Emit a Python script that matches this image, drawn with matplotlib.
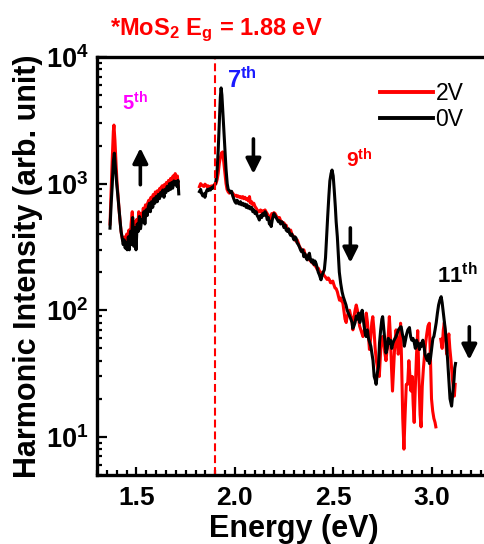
import numpy as np
import matplotlib
matplotlib.use('Agg')
import matplotlib.pyplot as plt
from matplotlib.ticker import FuncFormatter, MultipleLocator, LogLocator, NullFormatter

plt.rcParams['font.family'] = ['Liberation Sans', 'DejaVu Sans']
plt.rcParams['mathtext.fontset'] = 'custom'
plt.rcParams['mathtext.rm'] = 'Liberation Sans'
plt.rcParams['mathtext.bf'] = 'Liberation Sans:bold'
plt.rcParams['mathtext.it'] = 'Liberation Sans:italic'

# ---------------- data ----------------
# 0V, 5th-harmonic segment
e_0v_a = [1.366, 1.372, 1.377, 1.383, 1.388, 1.394, 1.400, 1.405, 1.411, 1.417,
          1.422, 1.427, 1.433, 1.438, 1.443, 1.448, 1.453, 1.459, 1.464, 1.470,
          1.475, 1.481, 1.487, 1.492, 1.498, 1.504, 1.510, 1.515, 1.521, 1.527,
          1.532, 1.538, 1.543, 1.549, 1.555, 1.560, 1.566, 1.571, 1.577, 1.583,
          1.588, 1.594, 1.600, 1.606, 1.611, 1.617, 1.623, 1.628, 1.634, 1.640,
          1.645, 1.650, 1.656, 1.662, 1.668, 1.673, 1.679, 1.684, 1.690, 1.695,
          1.700, 1.706, 1.711, 1.715]
i_0v_a = [445, 700, 950, 1500, 1740, 1300, 1000, 830, 650, 510,
          420, 380, 330, 360, 310, 340, 300, 380, 300, 420,
          330, 540, 320, 450, 300, 480, 420, 550, 440, 520,
          500, 600, 480, 620, 560, 650, 700, 600, 720, 650,
          760, 700, 790, 720, 820, 760, 850, 800, 890, 780,
          900, 850, 950, 880, 1000, 900, 1020, 920, 1050, 980,
          1040, 950, 1060, 830]

# 0V, 7th..11th segment
e_0v_b = [1.820, 1.826, 1.831, 1.837, 1.843, 1.848, 1.854, 1.860, 1.865, 1.871,
          1.876, 1.882, 1.888, 1.893, 1.899, 1.904, 1.910, 1.915, 1.921, 1.926,
          1.930, 1.934, 1.939, 1.944, 1.950, 1.955, 1.961, 1.966, 1.972, 1.977,
          1.983, 1.989, 1.994, 2.000, 2.006, 2.011, 2.017, 2.023, 2.028, 2.034,
          2.040, 2.045, 2.051, 2.057, 2.062, 2.068, 2.074, 2.079, 2.085, 2.091,
          2.096, 2.102, 2.108, 2.113, 2.119, 2.124, 2.130, 2.136, 2.141, 2.147,
          2.153, 2.158, 2.164, 2.170, 2.175, 2.181, 2.184, 2.190, 2.198, 2.204,
          2.209, 2.215, 2.221, 2.226, 2.232, 2.238, 2.243, 2.249, 2.255, 2.260,
          2.266, 2.272, 2.277, 2.283, 2.289, 2.294, 2.300, 2.305, 2.310, 2.316,
          2.322, 2.327, 2.333, 2.338, 2.344, 2.350, 2.355, 2.361, 2.367, 2.372,
          2.378, 2.384, 2.389, 2.395, 2.401, 2.406, 2.412, 2.418, 2.423, 2.429,
          2.434, 2.437, 2.443, 2.449, 2.454, 2.460, 2.466, 2.471, 2.477, 2.482,
          2.488, 2.493, 2.499, 2.504, 2.510, 2.514, 2.520, 2.526, 2.530, 2.537,
          2.544, 2.550, 2.556, 2.564, 2.570, 2.576, 2.582, 2.590, 2.595, 2.598,
          2.604, 2.610, 2.616, 2.622, 2.628, 2.634, 2.640, 2.646, 2.650, 2.656,
          2.662, 2.666, 2.672, 2.678, 2.684, 2.690, 2.696, 2.701, 2.707, 2.713,
          2.717, 2.723, 2.729, 2.734, 2.740, 2.746, 2.750, 2.756, 2.762, 2.767,
          2.773, 2.779, 2.785, 2.790, 2.796, 2.802, 2.808, 2.813, 2.818, 2.824,
          2.830, 2.836, 2.841, 2.844, 2.850, 2.856, 2.860, 2.866, 2.872, 2.878,
          2.886, 2.892, 2.898, 2.904, 2.910, 2.916, 2.922, 2.928, 2.937, 2.943,
          2.948, 2.954, 2.960, 2.965, 2.971, 2.977, 2.983, 2.987, 2.993, 2.999,
          3.005, 3.010, 3.016, 3.022, 3.028, 3.034, 3.040, 3.047, 3.052, 3.058,
          3.063, 3.068, 3.074, 3.080, 3.086, 3.092, 3.100, 3.106, 3.112, 3.116,
          3.120]
i_0v_b = [865, 900, 840, 800, 830, 780, 860, 900, 880, 910,
          890, 930, 920, 960, 980, 1050, 1300, 1800, 3000, 4800,
          5700, 5000, 3600, 2650, 1800, 1300, 1000, 900, 880, 850,
          870, 800, 760, 720, 700, 740, 700, 690, 720, 680,
          700, 670, 690, 650, 680, 640, 660, 630, 650, 600,
          620, 580, 600, 560, 540, 516, 560, 540, 580, 560,
          600, 583, 520, 540, 480, 500, 458, 520, 580, 560,
          540, 520, 500, 510, 480, 500, 490, 450, 470, 430,
          420, 440, 407, 390, 400, 380, 360, 380, 372, 340,
          330, 318, 300, 290, 300, 265, 280, 260, 250, 270,
          282, 250, 240, 250, 230, 245, 234, 215, 200, 190,
          180, 174, 190, 200, 209, 260, 400, 550, 800, 1050,
          1200, 1280, 1150, 900, 650, 500, 380, 260, 200, 163,
          140, 128, 120, 110, 100, 95, 90, 84, 80, 72,
          75, 80, 90, 85, 95, 80, 90, 100, 89, 75,
          65, 62, 70, 60, 56, 52, 45, 40, 30, 28,
          26, 32, 36, 55, 70, 85, 89, 70, 55, 46,
          50, 60, 55, 58, 50, 55, 58, 60, 62, 66,
          70, 72, 74, 74, 65, 60, 52, 58, 65, 70,
          73, 62, 58, 60, 56, 50, 58, 55, 49, 55,
          52, 58, 52, 45, 42, 40, 45, 38, 42, 50,
          60, 62, 70, 80, 95, 110, 120, 128, 115, 95,
          80, 70, 55, 40, 28, 20, 17.5, 22, 28, 35,
          38]

# 2V, 5th-harmonic segment
e_2v_a = [1.366, 1.372, 1.377, 1.383, 1.386, 1.391, 1.397, 1.402, 1.408, 1.413,
          1.419, 1.424, 1.430, 1.435, 1.441, 1.446, 1.451, 1.457, 1.462, 1.468,
          1.473, 1.479, 1.484, 1.490, 1.495, 1.501, 1.507, 1.512, 1.518, 1.523,
          1.529, 1.535, 1.540, 1.546, 1.551, 1.557, 1.563, 1.568, 1.574, 1.579,
          1.585, 1.591, 1.596, 1.602, 1.607, 1.613, 1.619, 1.624, 1.630, 1.635,
          1.641, 1.647, 1.652, 1.658, 1.663, 1.669, 1.674, 1.680, 1.686, 1.691,
          1.697, 1.702, 1.708, 1.713]
i_2v_a = [480, 900, 1500, 2600, 2900, 2200, 1400, 1000, 760, 600,
          470, 400, 360, 340, 380, 330, 400, 350, 430, 340,
          480, 600, 420, 500, 380, 520, 460, 600, 500, 580,
          540, 640, 560, 680, 600, 700, 740, 660, 780, 700,
          820, 760, 860, 800, 880, 820, 920, 860, 960, 900,
          980, 920, 1020, 960, 1060, 980, 1100, 1000, 1150, 1040,
          1200, 1080, 1150, 950]

# 2V, 7th..9th segment
e_2v_b = [1.820, 1.826, 1.831, 1.837, 1.843, 1.848, 1.854, 1.860, 1.865, 1.871,
          1.876, 1.882, 1.888, 1.893, 1.899, 1.904, 1.910, 1.915, 1.921, 1.926,
          1.932, 1.938, 1.943, 1.949, 1.955, 1.960, 1.966, 1.972, 1.977, 1.983,
          1.989, 1.994, 2.000, 2.006, 2.011, 2.017, 2.023, 2.028, 2.034, 2.040,
          2.045, 2.051, 2.057, 2.062, 2.068, 2.074, 2.079, 2.085, 2.091, 2.096,
          2.102, 2.108, 2.113, 2.119, 2.124, 2.130, 2.136, 2.141, 2.147, 2.153,
          2.158, 2.164, 2.170, 2.175, 2.181, 2.187, 2.192, 2.198, 2.204, 2.209,
          2.215, 2.221, 2.226, 2.232, 2.238, 2.243, 2.249, 2.255, 2.260, 2.266,
          2.272, 2.277, 2.283, 2.289, 2.294, 2.300, 2.305, 2.311, 2.316, 2.322,
          2.327, 2.333, 2.338, 2.344, 2.350, 2.355, 2.361, 2.367, 2.372, 2.378,
          2.384, 2.389, 2.395, 2.401, 2.406, 2.412, 2.418, 2.423, 2.429, 2.434,
          2.440, 2.446, 2.451, 2.457, 2.463, 2.468, 2.474, 2.480, 2.485, 2.491,
          2.497, 2.502, 2.508, 2.514, 2.520, 2.525, 2.531, 2.537, 2.542, 2.548,
          2.553, 2.559, 2.565, 2.570, 2.576, 2.582, 2.588, 2.593, 2.599, 2.605,
          2.610, 2.616, 2.622, 2.628, 2.633, 2.639, 2.645, 2.650, 2.656, 2.662,
          2.667, 2.673, 2.679, 2.683, 2.689, 2.695, 2.700, 2.706, 2.712, 2.718,
          2.724, 2.729, 2.733, 2.739, 2.745, 2.750, 2.756, 2.762, 2.767, 2.773,
          2.779, 2.784, 2.790, 2.795, 2.800, 2.806, 2.812, 2.818, 2.823, 2.829,
          2.835, 2.841, 2.846, 2.852, 2.858, 2.864, 2.870, 2.877, 2.883, 2.889,
          2.894, 2.900, 2.905, 2.910, 2.916, 2.922, 2.928, 2.934, 2.940, 2.945,
          2.951, 2.957, 2.962, 2.968, 2.974, 2.980, 2.987, 2.993, 2.998, 3.004,
          3.010, 3.016, 3.020]
i_2v_b = [946, 1000, 980, 960, 950, 990, 970, 940, 960, 920,
          950, 960, 930, 970, 990, 1000, 1080, 1200, 1450, 1600,
          1750, 1780, 1500, 1200, 1000, 900, 860, 840, 850, 860,
          840, 820, 800, 810, 790, 800, 780, 790, 770, 790,
          760, 780, 750, 760, 730, 790, 700, 720, 680, 700,
          660, 640, 620, 600, 600, 620, 590, 610, 600, 620,
          600, 580, 560, 540, 520, 580, 560, 590, 580, 560,
          540, 530, 540, 510, 500, 480, 490, 460, 470, 440,
          430, 420, 430, 400, 390, 380, 360, 350, 360, 340,
          320, 310, 300, 290, 300, 280, 270, 260, 260, 250,
          245, 240, 235, 230, 225, 220, 210, 215, 205, 200,
          195, 200, 190, 185, 180, 175, 180, 174, 165, 165,
          170, 160, 150, 148, 140, 130, 120, 125, 118, 114,
          100, 85, 80, 90, 95, 100, 90, 85, 70, 90,
          100, 110, 100, 85, 75, 70, 65, 62, 68, 80,
          95, 80, 60, 49, 60, 80, 89, 70, 50, 40,
          35, 32, 30, 45, 60, 62, 55, 45, 40, 50,
          65, 89, 60, 35, 23, 35, 55, 70, 60, 45,
          50, 79, 40, 14, 8, 15, 26, 26, 40, 30,
          23, 30, 18, 13, 25, 45, 69, 30, 15, 12,
          25, 35, 43, 55, 65, 75, 79, 40, 20, 16,
          14, 13, 12]

# 2V, 11th segment
e_2v_c = [3.045, 3.052, 3.058, 3.063, 3.069, 3.075, 3.080, 3.086, 3.091, 3.097,
          3.103, 3.108, 3.114, 3.118]
i_2v_c = [59, 50, 70, 80, 60, 45, 55, 65, 50, 40,
          30, 25, 21, 26]

e_gap = 1.90
labels = ['2V', '0V']

# ---------------- figure ----------------
fig = plt.figure(figsize=(4.84, 5.44), dpi=100)
ax = fig.add_axes([97 / 484, 1 - 475 / 544, 394 / 484, 418 / 544])

red = '#ff0000'
ax.plot(e_2v_a, i_2v_a, color=red, lw=2.2, label=labels[0])
ax.plot(e_2v_b, i_2v_b, color=red, lw=2.2)
ax.plot(e_2v_c, i_2v_c, color=red, lw=2.2)
ax.plot(e_0v_a, i_0v_a, color='black', lw=2.2, label=labels[1])
ax.plot(e_0v_b, i_0v_b, color='black', lw=2.2)

ax.axvline(e_gap, color=red, lw=1.5, dashes=(3.8, 1.9))

ax.set_yscale('log')
ax.set_xlim(1.3, 3.3)
ax.set_ylim(5, 1e4)

ax.xaxis.set_major_locator(MultipleLocator(0.5))
ax.xaxis.set_minor_locator(MultipleLocator(0.05))
ax.xaxis.set_major_formatter(FuncFormatter(lambda v, p: f'{v:.1f}'))
ax.yaxis.set_major_locator(LogLocator(base=10, numticks=10))
ax.yaxis.set_minor_locator(LogLocator(base=10, subs=np.arange(2, 10), numticks=20))
ax.yaxis.set_minor_formatter(NullFormatter())
ax.yaxis.set_major_formatter(FuncFormatter(lambda v, p: r'$\mathbf{10^{%d}}$' % int(round(np.log10(v)))))

for s in ax.spines.values():
    s.set_linewidth(2.4)
ax.tick_params(axis='both', which='both', direction='in', top=False, right=False, width=1.6)
ax.tick_params(axis='y', which='major', length=7, pad=6, labelsize=19.5)
ax.tick_params(axis='y', which='minor', length=3.5)
ax.tick_params(axis='x', which='major', length=6, pad=8, labelsize=19)
ax.tick_params(axis='x', which='minor', length=3.5)
for lab in ax.get_xticklabels():
    lab.set_fontweight('bold')

ax.set_xlabel('Energy (eV)', fontsize=22, fontweight='bold')
ax.xaxis.set_label_coords(0.5, -(514 - 475) / 418)
ax.set_ylabel('Harmonic Intensity (arb. unit)', fontsize=22, fontweight='bold')
ax.yaxis.set_label_coords((43 - 97) / 394, 0.5)

leg = ax.legend(loc='upper left', bbox_to_anchor=(380 / 484, 1 - 82 / 544),
                bbox_transform=fig.transFigure, frameon=False, fontsize=16.5,
                handlelength=2.3, handletextpad=0.12, labelspacing=0.12,
                borderpad=0, borderaxespad=0)
for ln in leg.get_lines():
    ln.set_linewidth(2.8)

# harmonic labels
ax.text(1.429, 3770, r'5$^{\mathbf{th}}$', color='#ff00ff', fontsize=14.5, fontweight='bold', ha='left', va='baseline')
ax.text(1.962, 5690, r'7$^{\mathbf{th}}$', color='#1a1aff', fontsize=17, fontweight='bold', ha='left', va='baseline')
ax.text(2.566, 1330, r'9$^{\mathbf{th}}$', color=red, fontsize=15, fontweight='bold', ha='left', va='baseline')
ax.text(3.028, 164, r'11$^{\mathbf{th}}$', color='black', fontsize=16, fontweight='bold', ha='left', va='baseline')

# arrows
arrow_kw = dict(arrowstyle='-|>,head_width=0.45,head_length=0.9', lw=2.6, color='black',
                mutation_scale=10, shrinkA=0, shrinkB=0)
ax.annotate('', xy=(1.520, 1914), xytext=(1.520, 980), arrowprops=arrow_kw)
ax.annotate('', xy=(2.094, 1194), xytext=(2.094, 2255), arrowprops=arrow_kw)
ax.annotate('', xy=(2.586, 237), xytext=(2.586, 447), arrowprops=arrow_kw)
ax.annotate('', xy=(3.190, 40.6), xytext=(3.190, 74), arrowprops=arrow_kw)

fig.text(216 / 484, 1 - 35 / 544, r'*MoS$_{\mathbf{2}}$ E$_{\mathbf{g}}$ = 1.88 eV',
         color=red, fontsize=17, fontweight='bold', ha='center', va='baseline')

fig.savefig('out.png', dpi=100)
